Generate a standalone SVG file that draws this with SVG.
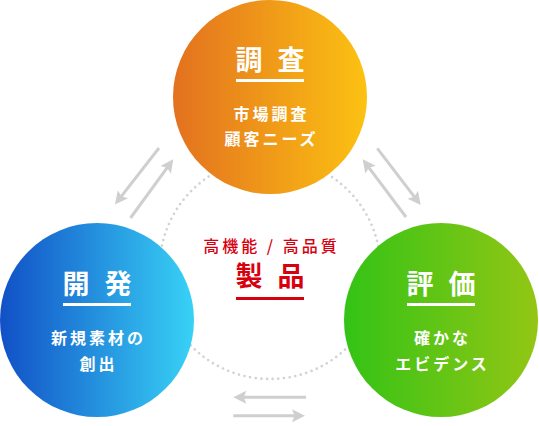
<svg xmlns="http://www.w3.org/2000/svg" width="539" height="426" viewBox="0 0 539 426">
  <defs>
    <linearGradient id="gOrange" x1="0" y1="0" x2="1" y2="0">
      <stop offset="0" stop-color="#e3711f"/>
      <stop offset="1" stop-color="#fcc212"/>
    </linearGradient>
    <linearGradient id="gBlue" x1="0" y1="0" x2="1" y2="0">
      <stop offset="0" stop-color="#1150c6"/>
      <stop offset="1" stop-color="#38d2f6"/>
    </linearGradient>
    <linearGradient id="gGreen" x1="0" y1="0" x2="1" y2="0">
      <stop offset="0" stop-color="#33c315"/>
      <stop offset="1" stop-color="#93c615"/>
    </linearGradient>
    <marker id="ah" markerUnits="userSpaceOnUse" orient="auto" refX="0" refY="0" markerWidth="30" markerHeight="30" overflow="visible">
      <path d="M10,0 L-3,-6.5 L-0.5,0 L-3,6.5 Z" fill="#cfcfcf"/>
    </marker>
    <style>
      .title { font-family: "Noto Sans CJK JP", "Noto Sans", sans-serif; font-weight: 700; font-size: 27px; fill: #ffffff; text-anchor: middle; letter-spacing: 4.5px; }
      .sub { font-family: "Noto Sans CJK JP", "Noto Sans", sans-serif; font-weight: 700; font-size: 16px; fill: #ffffff; text-anchor: middle; letter-spacing: 3px; }
      .rline { fill: #ffffff; }
      .arr { stroke: #cfcfcf; stroke-width: 3; fill: none; marker-end: url(#ah); }
      .ctr { font-family: "Noto Sans CJK JP", "Noto Sans", sans-serif; fill: #d7000f; text-anchor: middle; }
    </style>
  </defs>

  <g id="center">
    <circle cx="270" cy="268.5" r="110.5" fill="none" stroke="#d3d3d3" stroke-width="2.7" stroke-linecap="round" stroke-dasharray="0 5.69"/>
    <text class="ctr" x="271.5" y="252" font-size="16" font-weight="500" letter-spacing="3">高機能 / 高品質</text>
    <text class="ctr" x="272.2" y="286" font-size="27" font-weight="700" letter-spacing="4.5">製 品</text>
    <rect x="236" y="297" width="68" height="3" fill="#d7000f"/>
  </g>

  <g id="connectors">
    <line class="arr" x1="159" y1="148" x2="121.1" y2="196.6"/>
    <line class="arr" x1="130.5" y1="218" x2="167.4" y2="167.4"/>
    <line class="arr" x1="377.3" y1="148.3" x2="414.6" y2="197.1"/>
    <line class="arr" x1="406" y1="217" x2="368.7" y2="167.3"/>
    <line class="arr" x1="306" y1="397.3" x2="243.3" y2="397.3"/>
    <line class="arr" x1="233.3" y1="415.7" x2="295" y2="415.7"/>
  </g>

  <g id="node-chousa">
    <circle cx="270" cy="97" r="97" fill="url(#gOrange)"/>
    <text class="title" x="272.2" y="70">調 査</text>
    <rect class="rline" x="236" y="79" width="68" height="3"/>
    <text class="sub" x="271.5" y="120">市場調査</text>
    <text class="sub" x="271.5" y="145">顧客ニーズ</text>
  </g>

  <g id="node-kaihatsu">
    <circle cx="97" cy="320" r="97" fill="url(#gBlue)"/>
    <text class="title" x="99.2" y="294">開 発</text>
    <rect class="rline" x="63" y="303" width="68" height="3"/>
    <text class="sub" x="98.5" y="344">新規素材の</text>
    <text class="sub" x="98.5" y="370">創出</text>
  </g>

  <g id="node-hyouka">
    <circle cx="441" cy="320" r="97" fill="url(#gGreen)"/>
    <text class="title" x="443.2" y="294">評 価</text>
    <rect class="rline" x="407" y="303" width="68" height="3"/>
    <text class="sub" x="442.5" y="344">確かな</text>
    <text class="sub" x="442.5" y="370">エビデンス</text>
  </g>
</svg>
